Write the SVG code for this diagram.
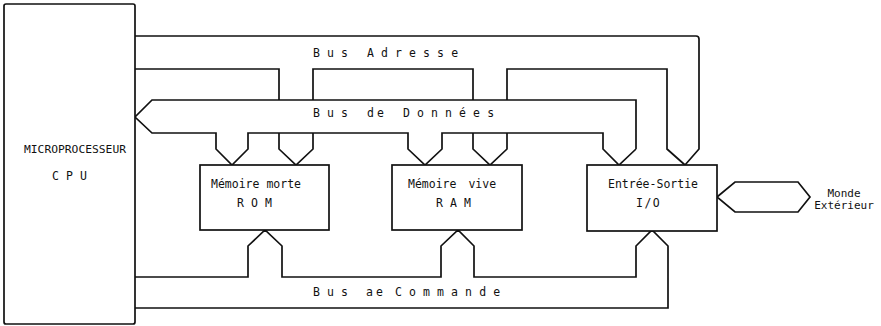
<svg xmlns="http://www.w3.org/2000/svg" width="881" height="326" viewBox="0 0 881 326">
  <style>
    .box { fill: #fff; stroke: #111; stroke-width: 1.7; }
    .bus { fill: none; stroke: #111; stroke-width: 1.7; stroke-linejoin: miter; }
    .t { font-family: "DejaVu Sans Mono", "Liberation Mono", monospace; font-size: 11.5px; fill: #111; }
    .sp { letter-spacing: 7.1px; }
    .tight { letter-spacing: 3px; }
  </style>
  <rect width="881" height="326" fill="#fff"/>

  <g id="connectors">
    <!-- Bus Adresse -->
    <path class="bus" d="M135,36 H696 Q699,36 699,39 V149 L685,165"/>
    <path class="bus" d="M135,69 H279 V100 M313,100 V69 H473 V100 M507,100 V69 H667 V149 L685,165"/>
    <path class="bus" d="M279,133 V149 L296,165 L313,149 V133"/>
    <path class="bus" d="M473,133 V149 L490,165 L507,149 V133"/>
    <!-- Bus de Données -->
    <path class="bus" d="M636,149 V100 H152 L135,117 L152,133 H216 V149 L232,165 L248,149 V133 H408 V149 L425,165 L442,149 V133 H603 V149 L619,165 L636,149"/>
    <!-- Bus de Commande -->
    <path class="bus" d="M135,277 H248 V246 L265,230 L282,246 V277 H441 V246 L458,230 L474,246 V277 H636 V246 L652,230 L668,246 V308 H135"/>
    <!-- Monde Extérieur -->
    <path class="bus" d="M717,197 L735,182 H798 L810,197 L798,212 H735 Z"/>
  </g>

  <g id="bus-labels">
    <text class="t" y="57"><tspan class="sp" x="313">Bus</tspan> <tspan class="sp" x="367">Adresse</tspan></text>
    <text class="t" y="117"><tspan class="sp" x="313">Bus</tspan> <tspan class="tight" x="367">de</tspan> <tspan class="sp" x="403">Données</tspan></text>
    <text class="t" y="296"><tspan class="sp" x="313">Bus</tspan> <tspan class="tight" x="366">ae</tspan> <tspan class="sp" x="395">Commande</tspan></text>
  </g>

  <g id="cpu">
    <rect class="box" x="4" y="4" width="131" height="320" rx="2"/>
    <text class="t" x="24" y="153" style="font-size:11.3px">MICROPROCESSEUR</text>
    <text class="t sp" x="52" y="180">CPU</text>
  </g>

  <g id="rom">
    <rect class="box" x="200" y="165" width="129" height="65"/>
    <text class="t" x="211" y="188">Mémoire morte</text>
    <text class="t sp" x="237" y="207">ROM</text>
  </g>

  <g id="ram">
    <rect class="box" x="392" y="165" width="130" height="65"/>
    <text class="t" x="408" y="188" word-spacing="5">Mémoire vive</text>
    <text class="t sp" x="436" y="207">RAM</text>
  </g>

  <g id="io">
    <rect class="box" x="587" y="165" width="130" height="66"/>
    <text class="t" x="608" y="188">Entrée-Sortie</text>
    <text class="t" x="636" y="207" style="letter-spacing:1.5px">I/O</text>
  </g>

  <g id="monde">
    <text class="t" x="844" y="197" text-anchor="middle" style="font-size:11px">Monde</text>
    <text class="t" x="844" y="209" text-anchor="middle" style="font-size:11px">Extérieur</text>
  </g>
</svg>
